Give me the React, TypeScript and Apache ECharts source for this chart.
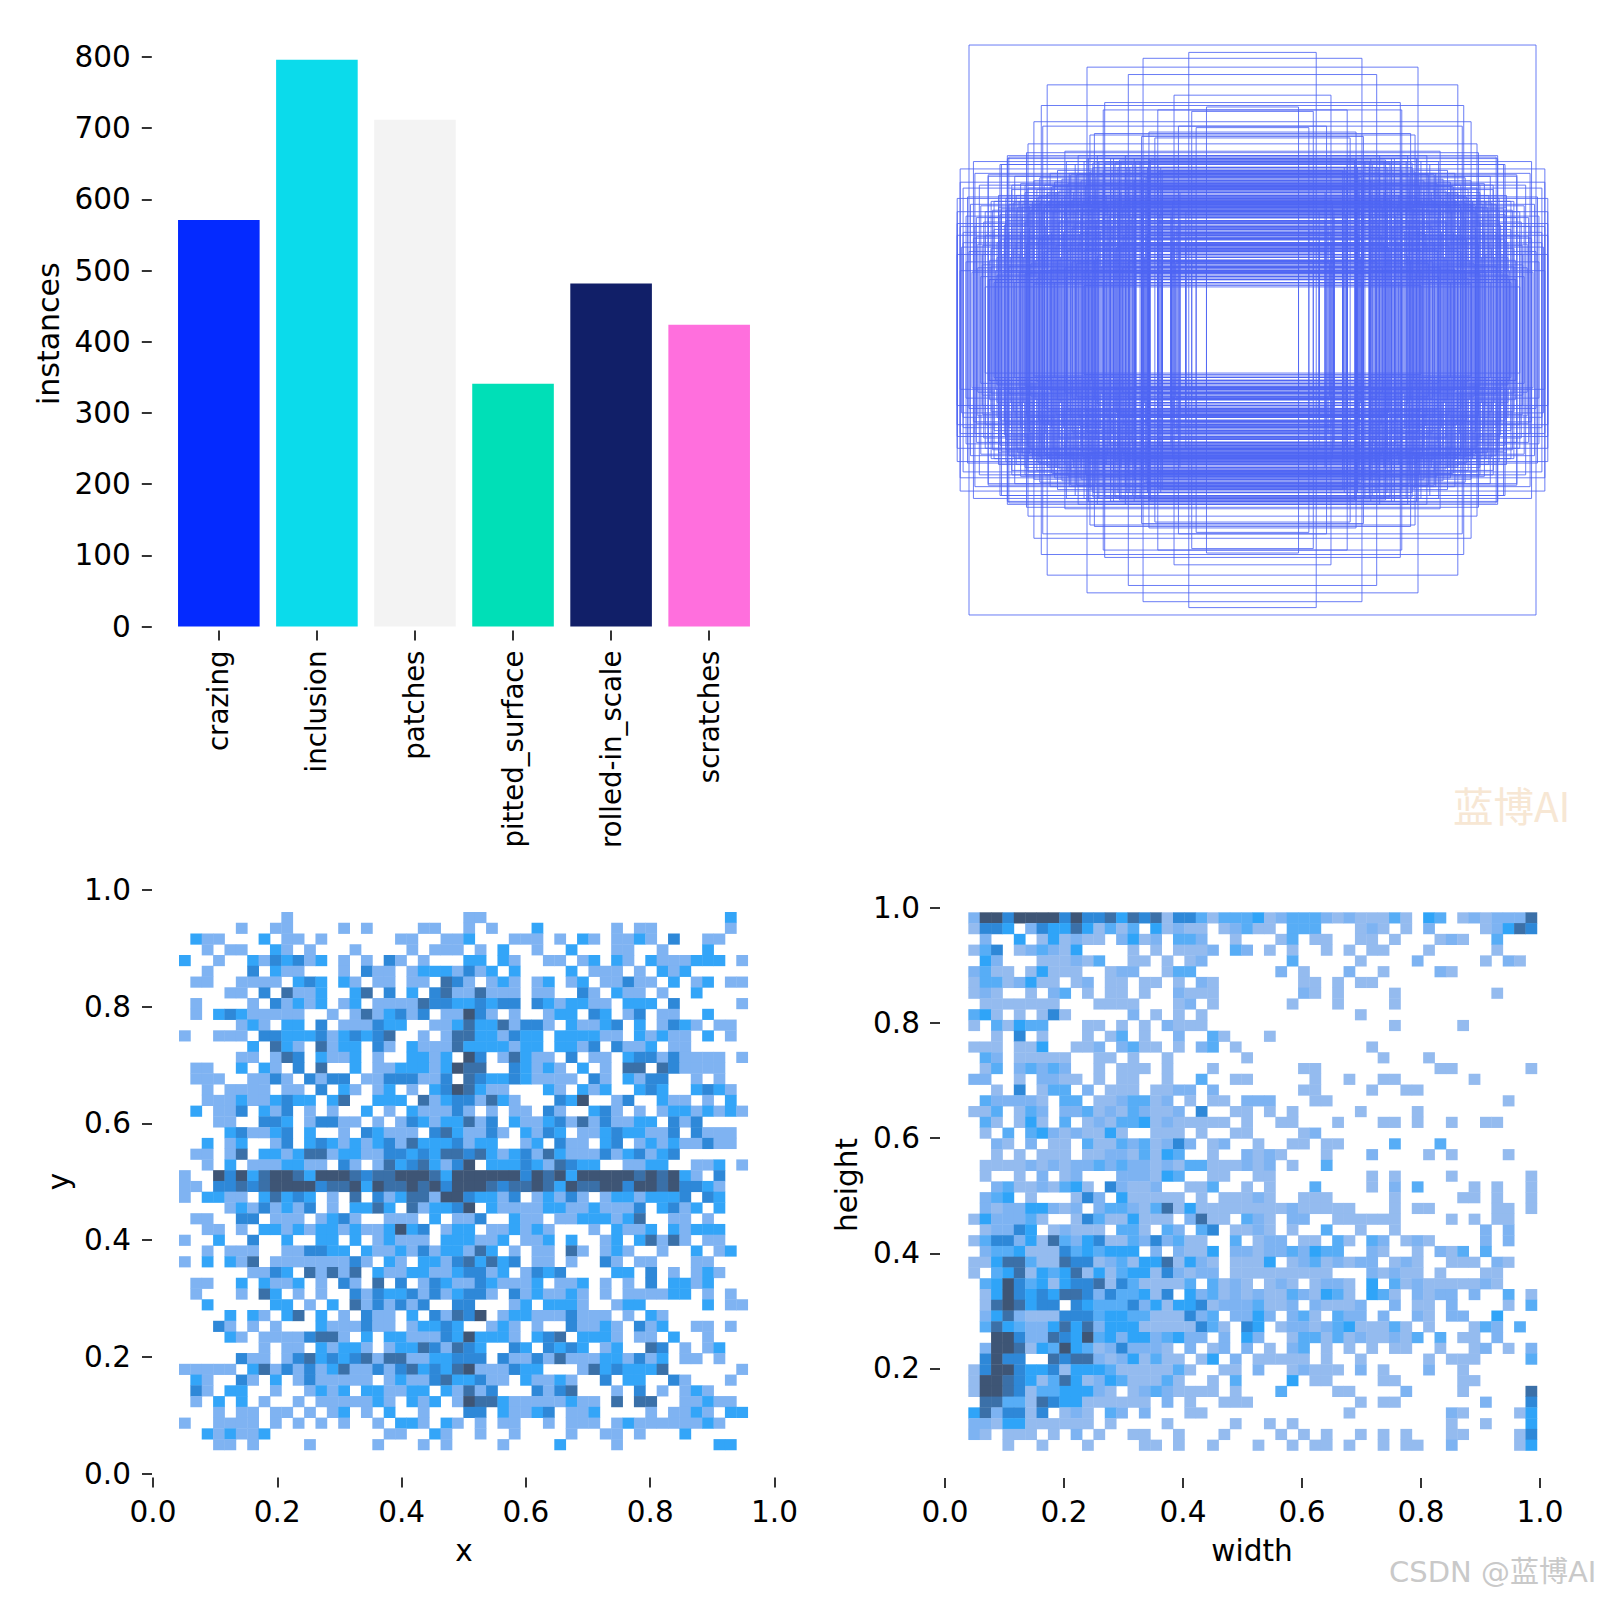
import React, { useEffect, useRef } from "react";
import * as echarts from "echarts";

const categories = ["crazing", "inclusion", "patches", "pitted_surface", "rolled-in_scale", "scratches"];
const instances = [571, 796, 712, 341, 482, 424];
const barColors = ["#042AFF", "#0BDBEB", "#F3F3F3", "#00DFB7", "#111F68", "#FF6FDD"];
const unitTicks = [0, 0.2, 0.4, 0.6, 0.8, 1.0];
const heightTicks = [0.2, 0.4, 0.6, 0.8, 1.0];

// half width, half height of the centred label boxes
const boxHalfSizes: number[][] = [
  [284,285],[64,277],[110,271],[166,263],[124,256],[206,245],[79,235],[211,225],[148,227],[150,220],[95,220],[46,223],[61,218],
  [219,208],[210,204],[74,204],[56,203],[162,195],[158,196],[103,198],[111,193],[98,192],[225,186],[187,179],[245,175],[279,169],[292,161],
  [226,178],[245,171],[252,165],[264,155],[238,153],[278,156],[292,148],[273,145],[290,142],[295,131],[285,133],[254,135],[225,142],[215,132],
  [201,143],[191,132],[183,157],[179,137],[174,175],[165,172],[160,167],[155,175],[148,167],[138,167],[132,169],[126,163],[123,163],[118,171],
  [117,162],[110,152],[106,152],[103,172],[92,162],[91,68],[82,77],[81,68],[78,88],[73,138],[66,85],[241,145],[235,123],[230,122],[220,128],
  [210,118],[205,127],[196,125],[187,122],[175,128],[170,122],[161,125],[153,122],[145,125],[135,128],[130,122],[120,128],[106,138],[103,125],
  [93,115],[267,118],[260,120],[276,112],[295,107],[290,88],[295,94],[276,93],[270,85],[296,75],[270,75],[293,59],[270,65],[256,55],[263,50],
  [267,43],[168,44],[141,48],[180,68],[203,50],[256,72],[261,82],[236,88],[223,82],[243,98],[248,105],[223,102],[210,95],[90,160],[94,158],
  [102,170],[104,143],[111,140],[117,168],[133,170],[139,172],[159,163],[164,172],[182,155],[200,143],[205,137],[209,122],[214,133],[224,117],
  [227,145],[229,73],[241,140],[244,173],[251,165],[254,123],[264,153],[257,50],[265,50],
  [268,95],[265,112],[263,70],[259,100],[257,60],[255,88],[253,116],[250,76],[248,92],[246,110],[244,64],[240,104],[239,82],[237,118],[234,58],
  [232,97],[228,108],[226,86],[222,120],[221,66],[218,100],[216,52],[214,90],[212,113],[209,78],[207,104],[204,94],[202,61],[199,118],[197,84],
  [194,108],[192,72],[189,98],[186,54],[185,112],[182,88],[178,106],[176,66],[173,96],[171,116],[168,80],[166,102],[163,58],[160,92],[157,110],
  [155,74],[152,99],[150,47],[146,87],[144,114],[142,69],[140,103],[136,83],[134,119],[130,62],[128,95],[125,107],[122,78],[119,100],[117,56],
  [111,90],[110,117],[108,72],[105,96],[103,84],[94,108],[94,64],[90,100],[91,53],[82,92],[82,112],[77,66],[75,104],[73,80],
  [103,172],[112,169],[127,174],[142,171],[153,168],[168,169],[178,165],[186,168],[195,160],[203,156],[212,152],[219,149],[232,146],[120,165],
  [105,163],[94,166],[135,162],[150,160],[163,158],[176,155],[190,151],[198,148],[208,145],[216,141],[228,138],[237,135],[247,132],[258,129],
  [111,158],[127,157],[142,156],[157,154],[171,150],[184,147],[193,139],[206,136],[213,127],[223,124],[233,129],[244,126],[251,121],[103,155],
  [118,150],[133,149],[149,147],[167,145],[181,142],[196,137],[211,134],[225,131],[239,127],[109,146],[124,144],[139,142],[156,140],[172,138],
  [188,135],[203,130],[218,126],[231,125],[94,142],[117,139],[131,137],[147,135],[164,133],[180,130],[194,128],[208,124],[221,122],[103,135],
  [122,132],[138,130],[154,129],[170,127],[186,125],[200,123],[117,127],[129,125],[144,123],[160,121],[177,120],[91,131],[91,144],[82,120],[80,128],
  [295,118],[293,103],[291,83],[289,97],[287,68],[286,114],[284,78],[282,125],[281,58],[279,92],[277,104],[275,62],[274,86],[272,124],[271,54],
  [269,108],[262,128],[261,64],[258,47],[252,90],[249,58],[247,120],[242,72],[238,48],[233,76],[231,112],[227,56],[224,92],[219,46],[217,70],
  [213,60],[206,80],[201,98],[198,48],[195,70],[190,115],[187,62],[184,80],[180,102],[177,50],[174,86],[169,60],[167,110],[164,84],[161,50],
  [158,70],[156,104],[151,64],[149,116],[147,48],[143,92],[139,58],[137,78],[133,110],[131,86],[127,50],[124,68],[121,112],[118,82],[117,62],
  [111,104],[109,48],[107,94],[104,76],[103,58],[94,86],[94,70],[91,50],[91,78],[82,60],[79,96],[76,50],[73,110],[66,58],[66,118],[66,92],[61,70],[56,100],[46,62],
];

// x / y histogram, top row first: "col" or "from-to", letter = count level (none = 1, b = 2, ...)
const xyRows = [
  "9 25-26 48b",
  "5 8-9 14 16 21-22 25 27 31b 38 40-41 48",
  "1b 2-3 7b 9-10 12 19-20 23 24 25b 29-31 33 35b 36 38-39 40b 41 43c 46-47",
  "2 4-5 8b 9 11 15 20 22-23 24 26 28b 31 34b 38-39 42 46b",
  "0b 3 6b 7 8c 9b 10c 11 12b 14 16 18c 19 21 25-26b 28b 29 32-33 35 36b 38b 39 41b 42-44 45-47b 49",
  "2 6c 8b 9-10 14 16c 17-18 20 21-23b 24 25c 26 27b 29b 34b 36-38 40 42b 43 44b",
  "1-2 5-8 10b 11c 12b 14b 15 17-18 20-21 23d 24c 25 27 28b 29 31 32b 34 35b 37-38 39c 40-41 43b 45 46b 48-49",
  "4-5 7c 9d 10-11 12b 15b 16d 18c 20b 22c 23d 24-25 26d 27-29 31-32 35c 36 38b 39-40 42 45b",
  "1 6 8c 9 10b 11 12b 14 15b 17-20 21d 22-23c 24-25b 26c 27b 28-29c 31c 32b 33 34-35b 36-37 39-41b 43c 49",
  "1 3b 4c 5b 6-10 13 15 16d 17 18b 19c 20 21c 23 24 25e 26c 27 29 32 33-34b 36c 37b 39 40c 42-43 46b",
  "5 6b 7 9-10b 12c 14-16 17c 18-19b 22-23 24b 25d 26-27b 28d 29 30-31c 32 34b 35-36 37b 38c 40b 42 43c 44b 45 47-48",
  "0 3-5 7-8c 9-11b 12c 13 14b 15c 16b 17c 18d 21 23 24-25d 26-27b 28 29c 30-31b 33-36b 37-38 40b 41 42b 43-44 46b 48",
  "6b 8d 9b 10 12d 13 14-15b 17c 18 20b 21-23 24d 25-28b 29 30-31b 33-34b 35 36c 38c 39-40 41b 43-44",
  "5-6 8 9d 10c 12b 13-14 15b 17 20-21b 22 23b 25e 26c 28 29d 30b 31-32 34c 36-37 39b 40-41c 42 43c 44-47 49",
  "1-2 5b 7b 8 10c 12d 15b 17-18 19-21b 22 23b 24e 25d 26d 29c 30b 31 32b 33 35b 37 39-40d 42d 43c 44-47",
  "1-3 6-7 8c 9 11c 12 13-14c 16-17 18-20c 21-22 23c 25d 26c 27-28b 29c 30b 31-34 36c 37 39b 40 41-42c 45 47",
  "2 4-7 9-10 12c 14b 15 17 18b 20 22b 23c 24e 25d 26b 27-28 32b 33 35b 36 37b 40b 41c 42b 45b 46c 47b 48",
  "2-4 5b 6-7 8b 9c 10-11b 13b 14d 17-19b 21d 22 23b 24-25c 26 27d 28b 29 33c 34b 35e 38 39c 42b 43-44 46 48b",
  "1b 3-4 5c 7b 8 9c 11 13 16b 18 20b 21-23 24c 25 27 29-30 32c 33 36b 37c 38 40 42 43-44b 45 46b 47 48b 49",
  "3-4 7-8c 9b 11 12-13c 14-15 17 19 20c 21b 22 23b 24b 25d 26 27c 29b 30-31 32b 33c 34 35d 36 37c 38-39 40-41b 43c 44 45c",
  "4b 5c 6-7 8b 9c 11b 14 16c 17b 18-20 22c 23d 24b 25-26 27c 28 30b 31 32c 33b 35-36 37b 38c 39-40b 41-42 43c 45c 46-48",
  "2b 4 5b 8 9c 11b 12c 13b 14 15b 16 17b 18c 19 20d 21-23b 24c 25 26-27b 30 31b 33c 34-35 37b 38c 40 41b 42 43b 44-45 46c 47-48",
  "1-2 4 5d 7-8b 9 10b 11-12d 13 14-15b 16-17 18-19c 20b 21c 22b 23d 24d 25c 26d 27b 28 29b 30c 31 32d 33b 34-36 37c 38 39b 40c 41 42b 43c",
  "2 4b 6-8 9-10b 11-12 14c 15 17 18d 19b 20c 21d 22b 23 24c 25e 27-29b 30c 31b 32 33d 34c 35-36b 39-40 41-42b 45-46 47b 49",
  "0 3e 4c 5e 6b 7d 8-9e 10d 11b 12-14e 15d 16c 17d 18d 19-21e 22d 23b 24-29e 30c 31e 32d 33e 34b 35-39e 40d 41e 42d 43e 44b 45 47c",
  "0-1 3-4c 5d 6c 7d 8-11e 12c 13-14d 15e 16b 17e 18d 19d 20e 21d 22e 23c 24-26e 27d 28c 29-30d 31e 32d 33b 34e 35-36d 37-38e 39c 40-41e 42d 43e 44-45c 46b 47",
  "0 2-3b 4-5 7b 8d 9b 10c 11b 13 15d 17c 18 19b 20-21d 22 23e 24e 25c 26-27b 28 29c 31 32b 33 34c 35 37 38-39b 40 41-43b 44c 46c 47b",
  "4 5b 6 7c 8 9b 10 11c 13 15-16b 17d 18b 20d 21 22-23b 24c 25e 27b 28-31 32-33b 34-35 36b 37-39 40c 42b 43c 44 45b 47b",
  "1-2 5-6c 8-10 12 13b 14c 15 18-20 22b 24-25 26c 29b 30-31 33-34 35-37b 38 39b 40d 43-44 46",
  "2-3 5 7-8b 9 10b 11 12-13b 14 15b 16-17 18b 19e 20b 21c 23 24-25b 27-28 29b 30 31b 32 36 38b 39-40 41b 43b 44 45-47b",
  "0 3b 6c 9b 12-13b 15b 17 18b 19-21 23b 24-25b 26-27 28b 30-31 32b 34b 37 38b 40b 41d 42 43d 44 46-47",
  "2 4-6 9-10 11-12c 13-14b 16b 17-18 19b 20 21c 22 23b 24b 25 26d 27b 29 31-32 34d 35 37 38b 39 42 45b 47 48b",
  "0 2b 4b 5 6d 8-14 15c 16 18b 19 21-22b 23 24c 25d 26b 27d 28b 29c 31-32 34 37c 38 40-41 45-46",
  "6-7 8c 9b 11d 12 13d 14 15d 17b 18-19 20-21b 22-23 24b 25-26c 27 28b 30 31c 32b 33c 38-39b 41c 43 45 46b 47",
  "1-2 5b 7b 8-9 10b 12 14c 15 17d 19c 21 22c 23b 24-25 26c 27b 28-30 31b 33-34 35b 37 39 41c 43-44b 45 46b",
  "1 5 7d 8b 10 12 15c 16 17c 18-19b 20c 21 22c 23 24b 25-26c 27 29c 30 31b 32-33 34b 35 37 39-42 43-44b 46 48",
  "2b 8-9b 11 13b 15d 16 17c 18 19c 20 21c 24-25c 29 30b 32-34b 35 38 39-40b 46b 48-49",
  "4b 6b 7 9b 10d 12b 14 16c 17-18 20b 22c 23 24d 25c 26e 28 29-30b 31-33 34c 35-37 39 41b 42",
  "3c 4 6 8 12b 13-15 16c 17-18 20 21-22b 23c 24b 27 28b 29 31 34c 35-36 37b 38 40c 41 42b 45-46 48",
  "4b 5 7-10 11c 12-13d 14 16b 18-19b 20-22 23c 24b 25e 26-28b 29 31b 32c 33d 35-37b 38 40-41 43b 46",
  "7 9-10 12b 13 14-15b 16 18 19-20b 21d 22c 23 24d 25c 26b 29c 30b 32c 33b 34c 35b 37 38b 41d 42c 44 46 47b",
  "5c 6-7 9 10c 11d 12b 13c 14b 15c 16d 17 18d 19d 20-21 22-23b 24-26c 28c 29-30 31c 32 33d 34-36 37-38b 39 40c 41 42b 44-45 47",
  "0-4 6b 7d 8 9c 10 11c 12 13b 14d 15-16 17c 18 19c 20d 21b 22c 23b 24d 25e 26-28 29c 30-31b 35 36d 37b 38c 39-41b 42d 49",
  "1b 2 5c 6 8b 10 11c 12-16 18 19b 20-21 22c 23d 24-25b 26c 27-28 30b 31-32 33b 34 37c 39-40b 43c 44 48",
  "1c 2 4-5b 8 11 12b 13 14b 16-17b 18-19 20-21b 23b 24 25d 26 27c 31c 32 33c 34d 38 40c 42 44 45b 46",
  "1 3b 5b 7 10 12-16 17b 18 20b 21 22b 24 25e 26-27d 28b 29-33 34b 35-36 38d 40-41d 44-45 46b 47-48",
  "3 5-6 8-9 11 13 14b 16 18b 21 25-26c 28b 29-30 31b 32c 34-35 36b 41 43-44 45b 46 48-49b",
  "0 3-6 8 10 12 14 17 19-20b 21 23b 24 26 28-29 32 34-36 38 39b 40-45 46b 47",
  "2b 3 4b 5-6 7b 18-19 22b 23 26 29 34 37-38 40 44b",
  "3-4 6 11 17 21 23 28 33b 38 47b 48b",
];

// width / height histogram, top row first, same notation
const whRows = [
  "0b 1-2g 3e 4-7g 8e 9g 10-11e 12f 13d 14f 15e 16f 17 18-19e 20c 21 22c 23-24c 25d 26 27b 28-30c 31b 32 33b 34-36 37c 38 40d 41c 43 44b 45 46-47b 48b 49f",
  "0 1-2e 3d 5b 6e 7-8d 9f 10d 11 12c 13 14c 16d 17 18b 19-20 22 23b 24c 25-26 28-30c 34 35b 36 38 40b 45 46b 47d 48f 49e",
  "1b 4d 6 7d 8 9b 10-11 13b 14d 15 16b 18-19c 20b 23 27 28c 30-31 34-35 37 41 42b 43 46c",
  "0 1c 2e 4 5b 6c 7b 8 9d 14 16 18-20 21b 23c 24b 26 28 31 33 35-36 40 46",
  "1d 2b 6-8 9b 10 11c 14-15 17 19 20b 28c 34 39b 45 47b 48",
  "0b 1c 2-3 5 6d 7 8-9 12 13-14b 17 18-19c 27b 29 33b 36 41b 42",
  "0 1-2c 3 4b 5d 6-7 9 10b 12-13 15-16 18 20b 21 29-30 32 34-35",
  "0 1b 2 5 7b 8c 10 12-13 15 18b 19-21 29b 30 32 37 46",
  "1-3 4-6 7 11-14 18 19b 21 28 32 37",
  "0c 1d 2 4 6 7e 8 14b 16 18 20 34",
  "0 2c 3 4d 5-6c 10-11 13 15 17b 18-20 37 43",
  "2 4e 6 10 12 13c 15 18b 21c 22 26",
  "0-2 4-5 6d 9-10 11b 13b 14c 15-16 18 20b 21c 23 35",
  "1c 2b 4-5 6-8 11-12 14 17 24 36 40",
  "1 2c 4b 5c 6b 7c 8b 11 13-15 17 21 29-30 41-42 49",
  "0-1b 4 6-7b 8-9 11 13-14 17 20c 23-24 30 33 36-37 44",
  "2 4e 6 7-8c 10b 12-14 16-17 18-19b 21b 29-30 35 38-39",
  "1c 2-5b 6 8-9c 11-12 13b 14-15c 16 17b 19 21-22 24-26b 30-31 47",
  "0-1 2c 4 5c 6b 8-9b 10c 11 12b 13 14c 15b 16-17 18b 20e 23-24 26 28 34 39",
  "1c 2 4 5d 6 8c 10 11b 12 13-14c 15d 16 17b 18-22 24 27-28 32 36-37 39 42 45-46",
  "1 3c 5c 6d 7b 8 9b 10-11 12d 13 16-17 18 20 23-24 29 30b",
  "2b 3 5b 7-8 10c 11-12 13c 14b 15c 16 17b 18e 19b 21 22b 25 28-29 31-32 37c 41c",
  "2 4 6-8 10-11 12-13b 14 15c 16 17d 18c 21 24b 25 26b 27 31 35b 40 42 47",
  "1-4 5b 6 7b 8 9-10b 11c 12b 13c 14-15b 16 17b 18 19-20c 21-23 24b 25 26b 28 31c",
  "1 4 6b 8 9b 13-15b 16 17d 18c 21-22 25-26 35 37 42 49",
  "2b 3c 4-5 6b 7 8c 9d 10 12e 13b 14-15 16b 19-20 21c 24 26 30c 35 37b 39c 44 46 49",
  "1b 2c 3d 5 9 10e 11b 13d 14-15 16 17-18 20 22-24 25b 26 29-31 37 43-44 46 49",
  "1b 2 3-4b 5-6d 7b 8 9b 11b 12-13c 14b 15 16c 17f 18 19d 20-27 28b 29-33 37 39-40 46-47 49",
  "0 1d 2-4b 5c 6 9 10e 11c 12-13 14d 15 16-17 19b 20f 21-22 24c 25b 26 28-29b 32-37 42 44 46-47",
  "1 2-3b 4e 5d 7 8b 9 10-11 13-14c 15 17c 18b 20c 21e 23-24 25b 26 28 31c 34 37 45b 47b",
  "0 1c 2-3e 4b 5d 6 7f 8c 9b 10d 11e 12-13 14c 15b 16e 17b 18c 19-20 23c 25 26-27b 29-30 32c 33 35c 36b 38 39b 40 45b 47b",
  "1b 2-3c 4d 5-7 8e 9c 10d 11c 12-14d 16b 18b 19-20 21d 23-24b 25 26-27b 28c 29b 30d 31-32c 35b 36 39 41b 42 43c 45c",
  "0-1 2d 3-4f 5c 6-7 8f 9-10e 11 12b 13c 14 15-16d 17f 18 19d 20b 21 23-25 26d 28 29b 30c 31 32b 33 34-35b 37 38b 39 42-44 46b 47",
  "0 2c 3d 4f 5 6d 7c 8d 9f 10 11d 12 13c 14-15d 16 17e 18b 19 20-21b 23-31 35b 36 37b 38-39 41 45-46",
  "1c 2d 3g 4e 5c 6d 7 8d 9-10e 11f 12 13e 14c 15-18 19c 21c 22 23b 24 26 27b 28 30 31-32b 33 35d 37c 38 39b 40-44 45b 46",
  "1 2d 3g 4e 5d 6e 7d 8-9f 10e 11b 12e 13-14c 15d 16 17e 19d 20b 21c 22 23b 24 25b 26-27 28c 29b 30 31d 32c 33 35d 36c 37 39b 40 41-42b 44b 47c 49",
  "1 2f 3g 4f 5d 6-7e 9e 10d 11-13c 14e 15b 16d 17 18-19d 20e 21 22-24b 25c 26-27 28b 30b 31-33 34b 37b 39-40 42b 47 49c",
  "1b 2d 3f 4b 5-7 8-10e 11c 12-13d 14-15c 16-18 19e 20b 21c 23-24b 25d 26b 28b 29c 30 32c 33-34b 36b 39b 40 42-43b 46d",
  "1c 2f 3d 4c 5-6b 7d 8f 9d 10f 11b 12-14d 15-19 20e 21c 22 24e 25d 27 28-29b 30 31b 32c 33d 34-36 37c 38 40 44 45c 46b 48c",
  "2-3g 4e 5-6b 7f 8e 9d 10g 11c 12d 13b 14-15d 16b 17c 18d 19-20b 22b 24d 25b 28 29-30c 31 32c 33 34b 35-36 37b 38 39c 41c 43-44 46b",
  "1b 2-3g 4f 5 6d 7c 8g 9d 10c 11 12b 13e 14-16b 17 19b 21 22b 24b 26 28b 29c 31 33 35 37-38 41 44 45b 47 49b",
  "1e 2g 3-4e 7f 8e 9-10f 11b 12 13b 14d 15 16c 17-18 20 21d 23b 25-29 31 34 40 42-44 49c",
  "0 1e 2-3g 4e 5-6d 7e 8 9-11d 12c 13-17 18c 19 22-23 25b 28 29b 30-32 34b 36 40b 43",
  "0 1-2g 3f 4e 5d 6 7c 8f 9d 10 11b 12d 13c 14-16 17c 18 21 23c 28d 30-31 36-37 43-44",
  "0 1-2g 3f 4e 5 6-7c 8-10d 11b 12 14 15b 16c 17b 18-21 23 27c 32-33 38b 43 49f",
  "1f 2f 3-4c 5 6f 7e 8-9d 10-15 17b 19 22-24 34 36-37 45b 49e",
  "0d 1f 2b 3-4e 5 6e 8 9b 10 12c 13b 15b 19-20 33 42b 43 48 49d",
  "0-1b 2 3-4d 5-10 12 17 23 26 28 42 45 49d",
  "0b 1 3-5 7 9b 11 14-15 18 22 27 29 31 34 36 38 42-43 48 49e",
  "3 6 10 15-16 18 21 25 28 30-31 33 36 38-39 42b 48 49d",
];

const xyPalette = ["#7FB3F2", "#33A5F8", "#2E88D8", "#3A70A8", "#3E5575"];
const whPalette = ["#94BBEF", "#7DB3F2", "#57ADF6", "#2FA4F8", "#2E88D8", "#3B70A8", "#3E5575"];
const FONT = "DejaVu Sans";
const TXT = "#000000";

// box sizes sit on the source images' pixel lattice
const snap = (v: number) => Math.round((v - 0.3) / 1.475) * 1.475 + 0.3;
const boxes = boxHalfSizes.map(([w, h]) => [snap(w), snap(h)]);

function parseRows(rows: string[], x0: number, dx: number, yTop: number, dy: number) {
  const out: number[][] = [];
  rows.forEach((row, r) => {
    row.split(" ").forEach((tok) => {
      const m = tok.match(/^(\d+)(?:-(\d+))?([b-g]?)$/);
      if (!m) return;
      const from = +m[1];
      const to = m[2] ? +m[2] : from;
      const level = m[3] ? m[3].charCodeAt(0) - 97 : 0;
      for (let c = from; c <= to; c++) {
        out.push([x0 + c * dx, x0 + (c + 1) * dx, yTop - (r + 1) * dy, yTop - r * dy, level]);
      }
    });
  });
  return out;
}

const cellSeries = (idx: number, data: number[][], palette: string[]) => ({
  type: "custom",
  xAxisIndex: idx,
  yAxisIndex: idx,
  clip: false,
  silent: true,
  encode: { x: [0, 1], y: [2, 3] },
  data,
  renderItem: (_: any, api: any) => {
    const a = api.coord([api.value(0), api.value(3)]);
    const b = api.coord([api.value(1), api.value(2)]);
    return {
      type: "rect",
      shape: { x: a[0], y: a[1], width: b[0] - a[0] + 0.4, height: b[1] - a[1] + 0.4 },
      style: { fill: palette[api.value(4)], stroke: "none" },
    };
  },
});

const tick = { show: true, length: 10, lineStyle: { color: TXT, width: 1.6 } };
const label = (margin: number) => ({ color: TXT, fontFamily: FONT, fontSize: 29.5, margin });
const noLine = { show: false, onZero: false };
const fmt = (v: number) => v.toFixed(1);
const axisTitle = (text: string, x: number, y: number, vertical: boolean, fontSize: number) => ({
  type: "text",
  x,
  y,
  rotation: vertical ? Math.PI / 2 : 0,
  style: { text, fill: TXT, fontFamily: FONT, fontSize, align: "center", verticalAlign: "middle" },
});

export default function App() {
  const ref = useRef<HTMLDivElement>(null);
  useEffect(() => {
    const chart = echarts.init(ref.current!, null, { renderer: "svg" });
    chart.setOption({
      animation: false,
      backgroundColor: "#ffffff",
      grid: [
        { left: 169.8, top: 57, width: 588.4, height: 569.5 },
        { left: 957.5, top: 35, width: 590, height: 590 },
        { left: 153, top: 889.8, width: 621.5, height: 583.7 },
        { left: 945, top: 908, width: 595, height: 566 },
      ],
      xAxis: [
        {
          type: "category", gridIndex: 0, data: categories, offset: 4,
          axisLine: noLine, axisTick: { ...tick, alignWithLabel: true },
          axisLabel: { ...label(20), fontSize: 27.6, rotate: 90, interval: 0 }, splitLine: { show: false },
        },
        { type: "value", gridIndex: 1, min: -295, max: 295, show: false },
        {
          type: "value", gridIndex: 2, min: 0, max: 1, offset: 4,
          axisLine: noLine, axisTick: { ...tick, customValues: unitTicks },
          axisLabel: { ...label(19), customValues: unitTicks, formatter: fmt, hideOverlap: false }, splitLine: { show: false },
        },
        {
          type: "value", gridIndex: 3, min: 0, max: 1, offset: 4,
          axisLine: noLine, axisTick: { ...tick, customValues: unitTicks },
          axisLabel: { ...label(19), customValues: unitTicks, formatter: fmt, hideOverlap: false }, splitLine: { show: false },
        },
      ],
      yAxis: [
        {
          type: "value", gridIndex: 0, min: 0, max: 800, interval: 100, offset: 18,
          axisLine: noLine, axisTick: tick, axisLabel: label(21), splitLine: { show: false },
        },
        { type: "value", gridIndex: 1, min: -295, max: 295, show: false },
        {
          type: "value", gridIndex: 2, min: 0, max: 1, offset: 1,
          axisLine: noLine, axisTick: { ...tick, customValues: unitTicks },
          axisLabel: { ...label(21), customValues: unitTicks, formatter: fmt, hideOverlap: false }, splitLine: { show: false },
        },
        {
          type: "value", gridIndex: 3, min: 0.0165, max: 1, offset: 5,
          axisLine: noLine, axisTick: { ...tick, customValues: heightTicks },
          axisLabel: { ...label(20), customValues: heightTicks, formatter: fmt, hideOverlap: false }, splitLine: { show: false },
        },
      ],
      series: [
        {
          type: "bar", xAxisIndex: 0, yAxisIndex: 0, barWidth: 81.6, silent: true,
          data: instances.map((value, i) => ({ value, itemStyle: { color: barColors[i] } })),
        },
        {
          type: "custom", xAxisIndex: 1, yAxisIndex: 1, clip: false, silent: true,
          encode: { x: 0, y: 1 }, data: boxes,
          renderItem: (_: any, api: any) => {
            const a = api.coord([-api.value(0), api.value(1)]);
            const b = api.coord([api.value(0), -api.value(1)]);
            return {
              type: "rect",
              shape: { x: a[0], y: a[1], width: b[0] - a[0], height: b[1] - a[1] },
              style: { fill: "none", stroke: "#4F66F3", lineWidth: 0.85 },
            };
          },
        },
        cellSeries(2, parseRows(xyRows, 0.0418, 0.0183, 0.962, 0.01843), xyPalette),
        cellSeries(3, parseRows(whRows, 0.0392, 0.01911, 0.9925, 0.0187), whPalette),
      ],
      graphic: [
        axisTitle("instances", 48, 333.7, true, 30),
        axisTitle("y", 59, 1181.6, true, 29.5),
        axisTitle("height", 847, 1185, true, 29.5),
        axisTitle("x", 464, 1551, false, 29.5),
        axisTitle("width", 1252, 1551, false, 29.5),
        {
          type: "text", x: 1453, y: 784,
          style: { text: "蓝博AI", fill: "#F7E7D4", fontSize: 40.5, fontFamily: "Noto Sans CJK SC" },
        },
        {
          type: "text", x: 1389, y: 1557,
          style: { text: "CSDN @蓝博AI", fill: "#C9C9C9", fontSize: 29, fontFamily: "DejaVu Sans, Noto Sans CJK SC" },
        },
      ],
    });
    return () => chart.dispose();
  }, []);
  return <div ref={ref} style={{ position: "absolute", left: 0, top: 0, width: 1600, height: 1600 }} />;
}
